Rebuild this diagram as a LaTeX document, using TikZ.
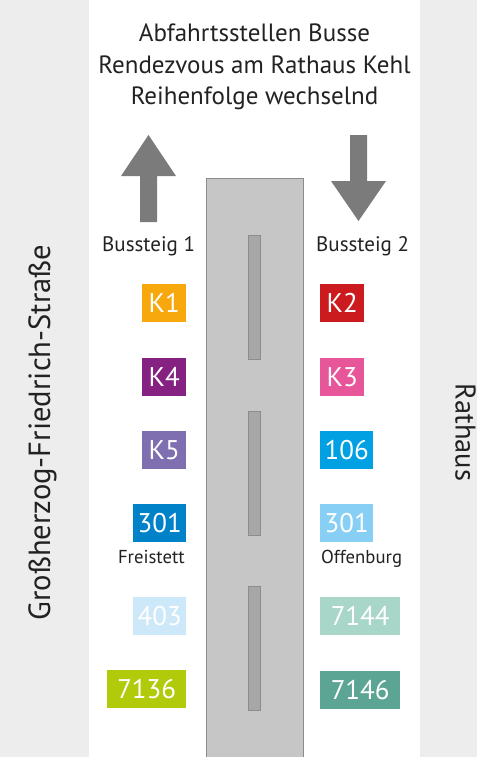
\documentclass[tikz,border=0pt]{standalone}
\usepackage{fontspec}
\setmainfont{PT Sans}
\definecolor{bggrey}{HTML}{EDEDED}
\definecolor{roadfill}{HTML}{C6C6C6}
\definecolor{roadedge}{HTML}{8C8C8C}
\definecolor{islandfill}{HTML}{A7A7A7}
\definecolor{arrowgrey}{HTML}{7B7B7B}
\definecolor{txt}{HTML}{222222}
\definecolor{cK1}{HTML}{F7A80D}
\definecolor{cK2}{HTML}{CC1B1F}
\definecolor{cK4}{HTML}{852180}
\definecolor{cK3}{HTML}{E8569A}
\definecolor{cK5}{HTML}{7F6FB1}
\definecolor{c106}{HTML}{00A0E2}
\definecolor{c301L}{HTML}{0082C9}
\definecolor{c301R}{HTML}{87CFF4}
\definecolor{c403}{HTML}{CDE8F8}
\definecolor{c7144}{HTML}{A8D6C9}
\definecolor{c7136}{HTML}{B1CB0B}
\definecolor{c7146}{HTML}{5CA595}
\begin{document}
\begin{tikzpicture}[x=1pt,y=-1pt,
  badge/.style={anchor=north west, inner sep=0pt, minimum height=38pt, text=white,
    font=\fontsize{27}{27}\selectfont},
  title/.style={anchor=base, text=txt, inner sep=0pt, font=\fontsize{25}{25}\selectfont},
  label/.style={text=txt, inner sep=0pt, font=\fontsize{21}{21}\selectfont},
  small/.style={text=txt, inner sep=0pt, font=\fontsize{18.7}{18.7}\selectfont},
  side/.style={anchor=base, text=txt, inner sep=0pt, font=\fontsize{30.6}{30.6}\selectfont},
  island/.style={fill=islandfill, draw=roadedge, line width=1pt}]
\fill[bggrey] (0,0) rectangle (477,757);
\useasboundingbox (0,0) rectangle (477,757);
\fill[white] (89,0) rectangle (420,757);
% road
\draw[fill=roadfill, draw=roadedge, line width=1pt] (206,760) -- (206,178.5) -- (303,178.5) -- (303,760);
\draw[island] (248,235.5) rectangle (260.5,359.5);
\draw[island] (248,411) rectangle (260.5,535);
\draw[island] (248,586) rectangle (260.5,710);
% arrows
\fill[arrowgrey] (140,222) -- (140,176) -- (121,176) -- (148.5,135) -- (176,176) -- (157,176) -- (157,222) -- cycle;
\fill[arrowgrey] (350,135) -- (367,135) -- (367,181) -- (386,181) -- (358.5,221) -- (331,181) -- (350,181) -- cycle;
% title
\node[title] (t1) at (254.5,42) {Abfahrtsstellen Busse};
\node[title] (t2) at (254.5,73.5) {Rendezvous am Rathaus Kehl};
\node[title] (t3) at (254.5,105) {Reihenfolge wechselnd};
% side labels
\node[side, rotate=90] (strasse) at (50,432.5) {Großherzog-Friedrich-Straße};
\node[side, rotate=-90, font=\fontsize{28.5}{28.5}\selectfont] (rathaus) at (455.5,432.5) {Rathaus};
% platform labels
\node[label, anchor=base west] (bs1) at (102,251) {Bussteig 1};
\node[label, anchor=base west] (bs2) at (316,251) {Bussteig 2};
% badges left
\node[badge, fill=cK1, minimum width=44pt] (k1) at (142,284) {K1};
\node[badge, fill=cK4, minimum width=44pt] (k4) at (142,358) {K4};
\node[badge, fill=cK5, minimum width=44pt] (k5) at (142,431) {K5};
\node[badge, fill=c301L, minimum width=53pt] (l301) at (133,504) {301};
\node[badge, fill=c403, minimum width=53pt] (l403) at (133,597) {403};
\node[badge, fill=c7136, minimum width=79pt] (l7136) at (107,670) {7136};
% badges right
\node[badge, fill=cK2, minimum width=44pt] (k2) at (320,284) {K2};
\node[badge, fill=cK3, minimum width=44pt] (k3) at (320,358) {K3};
\node[badge, fill=c106, minimum width=53pt] (r106) at (320,431) {106};
\node[badge, fill=c301R, minimum width=53pt] (r301) at (320,504) {301};
\node[badge, fill=c7144, minimum width=80pt] (r7144) at (320,597) {7144};
\node[badge, fill=c7146, minimum width=80pt] (r7146) at (320,671) {7146};
% destinations
\node[small, anchor=base east] (freistett) at (185,563) {Freistett};
\node[small, anchor=base west] (offenburg) at (321,563) {Offenburg};
\end{tikzpicture}
\end{document}
